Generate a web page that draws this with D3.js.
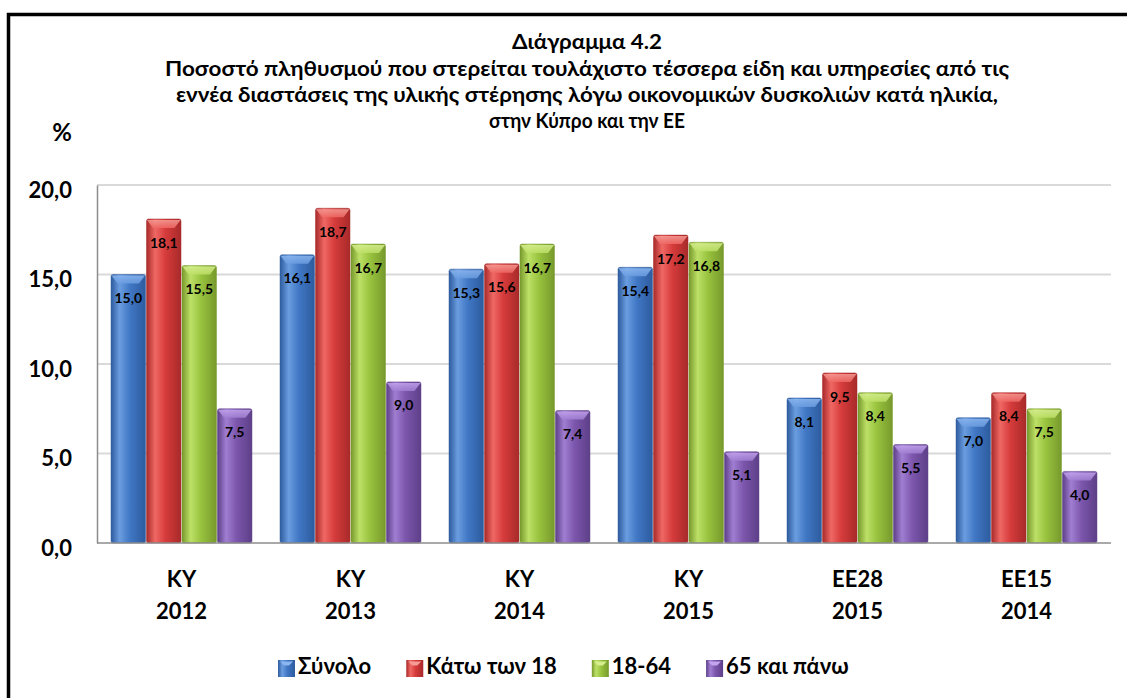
<!DOCTYPE html>
<html><head><meta charset="utf-8">
<script src="https://cdn.jsdelivr.net/npm/d3@7"></script>
<style>body{margin:0;background:#fff}svg{display:block}text{font-family:Lato,"Open Sans",sans-serif;font-weight:bold;fill:#000}</style>
</head><body><svg id="c" width="1127" height="698"></svg>
<script>
const categories = [["ΚΥ","2012"],["ΚΥ","2013"],["ΚΥ","2014"],["ΚΥ","2015"],["ΕΕ28","2015"],["ΕΕ15","2014"]];
const seriesNames = ["Σύνολο","Κάτω των 18","18-64","65 και πάνω"];
const total = [15.0,16.1,15.3,15.4,8.1,7.0];
const under18 = [18.1,18.7,15.6,17.2,9.5,8.4];
const age18to64 = [15.5,16.7,16.7,16.8,8.4,7.5];
const age65plus = [7.5,9.0,7.4,5.1,5.5,4.0];
const yTicks = [0,5,10,15,20];
const titleLines = ["Διάγραμμα 4.2","Ποσοστό πληθυσμού που στερείται τουλάχιστο τέσσερα είδη  και υπηρεσίες από τις","εννέα διαστάσεις της υλικής στέρησης λόγω οικονομικών δυσκολιών κατά  ηλικία,","στην Κύπρο και την ΕΕ"];

const series = [total, under18, age18to64, age65plus];
const colors = [
  {base:"#4077c4", light:"#6a9de0", dark:"#2d5b9e", top:"#8cb6f0"},
  {base:"#d63b3b", light:"#ef6864", dark:"#a82a2a", top:"#f59c96"},
  {base:"#98c33e", light:"#bde067", dark:"#77992c", top:"#d6ee90"},
  {base:"#7c56ac", light:"#a07ed2", dark:"#5d3f88", top:"#c4a4ee"}
];

const svg = d3.select("#c");
const m = {left:97, right:1111, top:185, bottom:543};
const x0 = d3.scaleBand().domain(d3.range(categories.length)).range([m.left,m.right]).paddingInner(0.16).paddingOuter(0.08);
const x1 = d3.scaleBand().domain(d3.range(series.length)).range([0,x0.bandwidth()]).padding(0);
const y = d3.scaleLinear().domain([0,20]).range([m.bottom,m.top]);

const defs = svg.append("defs");
colors.forEach((c,i)=>{
  const g = defs.append("linearGradient").attr("id","g"+i).attr("x1","0").attr("x2","1").attr("y1","0").attr("y2","0");
  g.append("stop").attr("offset","0").attr("stop-color",c.dark);
  g.append("stop").attr("offset","0.25").attr("stop-color",c.light);
  g.append("stop").attr("offset","0.55").attr("stop-color",c.base);
  g.append("stop").attr("offset","1").attr("stop-color",c.dark);
  const t = defs.append("linearGradient").attr("id","t"+i).attr("x1","0").attr("x2","0").attr("y1","0").attr("y2","1");
  t.append("stop").attr("offset","0").attr("stop-color",c.top);
  t.append("stop").attr("offset","1").attr("stop-color",c.light);
});

// outer frame
svg.append("path").attr("d","M8.5,698 V14.5 H1127").attr("fill","none").attr("stroke","#000").attr("stroke-width",3.5);

// title
const titleY = [44,71,97,123];
const titleW = [150,844,822,196];
svg.append("g").selectAll("text").data(titleLines).join("text")
  .attr("x",587).attr("y",(d,i)=>titleY[i]).attr("text-anchor","middle")
  .attr("font-size",20).attr("textLength",(d,i)=>titleW[i]).attr("lengthAdjust","spacingAndGlyphs")
  .attr("dominant-baseline","middle").text(d=>d);

svg.append("text").attr("x",62).attr("y",135).attr("text-anchor","middle").attr("dominant-baseline","middle").attr("font-size",24).text("%");

// gridlines
svg.append("g").selectAll("line").data(yTicks.filter(d=>d>0)).join("line")
  .attr("x1",m.left).attr("x2",m.right).attr("y1",d=>y(d)).attr("y2",d=>y(d))
  .attr("stroke","#d9d9d9").attr("stroke-width",2);

// y axis
const yAxis = d3.axisLeft(y).tickValues(yTicks).tickSize(0).tickPadding(25).tickFormat(d=>d3.format(".1f")(d).replace(".",","));
const ya = svg.append("g").attr("transform",`translate(${m.left},0)`).call(yAxis);
ya.select(".domain").attr("stroke","#8c8c8c").attr("stroke-width",1.5);
ya.selectAll("text").attr("font-size",22).attr("font-family","Lato").attr("font-weight","bold").attr("fill","#000").attr("dy","0.55em");

// bars
const groups = svg.append("g").selectAll("g").data(categories).join("g")
  .attr("transform",(d,i)=>`translate(${x0(i)},0)`);
series.forEach((s,si)=>{
  const bw = x1.bandwidth();
  groups.each(function(d,ci){
    const g = d3.select(this);
    const v = s[ci];
    const bx = x1(si), by = y(v), bh = y(0)-y(v);
    g.append("rect").attr("x",bx+0.5).attr("y",by).attr("width",bw-1).attr("height",bh).attr("rx",2)
      .attr("fill",`url(#g${si})`).attr("stroke",colors[si].dark).attr("stroke-opacity",0.5).attr("stroke-width",1);
    g.append("path").attr("d",`M${bx+1},${by+1} H${bx+bw-1} L${bx+bw-7},${by+9} H${bx+7} Z`)
      .attr("fill",`url(#t${si})`).attr("opacity",0.85);
    g.append("text").attr("x",bx+bw/2).attr("y",by+25).attr("text-anchor","middle").attr("dominant-baseline","middle")
      .attr("font-size",14).text(d3.format(".1f")(v).replace(".",","));
  });
});

// x axis
svg.append("line").attr("x1",m.left).attr("x2",m.right).attr("y1",m.bottom).attr("y2",m.bottom).attr("stroke","#8c8c8c").attr("stroke-width",1.5);
const xl = svg.append("g").selectAll("text").data(categories).join("text")
  .attr("text-anchor","middle").attr("font-size",22);
xl.append("tspan").attr("x",(d,i)=>x0(i)+x0.bandwidth()/2).attr("y",581).attr("dominant-baseline","middle").text(d=>d[0]);
xl.append("tspan").attr("x",(d,i)=>x0(i)+x0.bandwidth()/2).attr("y",613).attr("dominant-baseline","middle").text(d=>d[1]);

// legend (sequential layout)
const lg = svg.append("g");
let lx = 278;
seriesNames.forEach((name,i)=>{
  const it = lg.append("g").attr("transform",`translate(${lx},668.5)`);
  it.append("rect").attr("x",0).attr("y",-8.5).attr("width",17).attr("height",17).attr("fill",`url(#g${i})`);
  it.append("path").attr("d","M2,-7 H15 L11,-3 H6 Z").attr("fill",colors[i].top);
  const t = it.append("text").attr("x",20).attr("y",0).attr("dominant-baseline","middle").attr("font-size",22).text(name);
  lx += 20 + t.node().getComputedTextLength() + 35;
});
</script></body></html>
